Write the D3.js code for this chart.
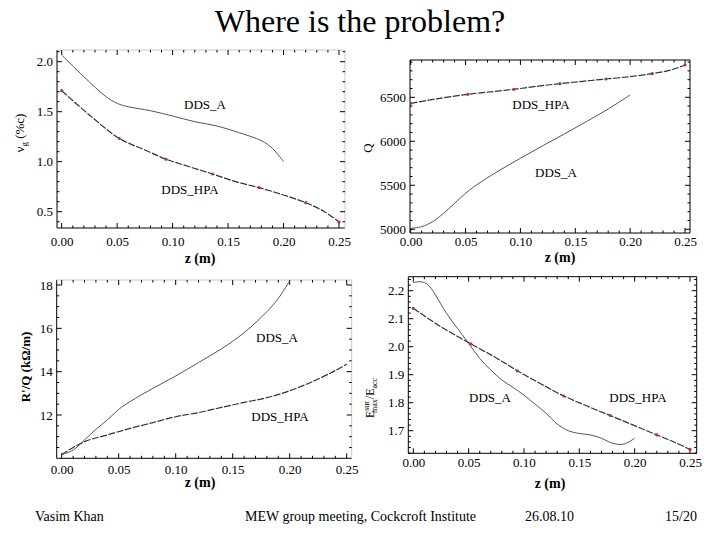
<!DOCTYPE html>
<html><head><meta charset="utf-8">
<script src="https://cdn.jsdelivr.net/npm/d3@7"></script>
<style>body{margin:0;background:#fff}svg{display:block}svg text{font-family:"Liberation Serif","DejaVu Serif",serif !important;fill:#000}</style>
</head><body>
<svg id="c" width="720" height="540"></svg>
<script>
// ---- data ----
const titleText = "Where is the problem?";
const footer = ["Vasim Khan", "MEW group meeting, Cockcroft Institute", "26.08.10", "15/20"];
const zCells = [0, 0.052, 0.094, 0.136, 0.178, 0.22, 0.25];
const xTicks = [0, 0.05, 0.10, 0.15, 0.20, 0.25];

// panel 1: group velocity
const zA1 = [0, 0.02, 0.04, 0.05, 0.06, 0.08, 0.10, 0.12, 0.14, 0.16, 0.18, 0.19, 0.20];
const vgA = [2.067, 1.85, 1.65, 1.583, 1.55, 1.51, 1.457, 1.40, 1.357, 1.29, 1.21, 1.133, 1.0];
const zH = [0, 0.025, 0.052, 0.075, 0.094, 0.115, 0.136, 0.157, 0.178, 0.2, 0.22, 0.237, 0.25];
const vgHPA = [1.71, 1.467, 1.232, 1.117, 1.025, 0.95, 0.877, 0.80, 0.74, 0.667, 0.59, 0.50, 0.397];
const yTicks1 = [0.5, 1.0, 1.5, 2.0];

// panel 2: Q
const zA2 = [0, 0.01, 0.02, 0.03, 0.04, 0.05, 0.06, 0.08, 0.10, 0.12, 0.14, 0.16, 0.18, 0.20];
const qA = [5011, 5030, 5087, 5182, 5295, 5409, 5504, 5663, 5807, 5947, 6083, 6223, 6367, 6527];
const qHPA = [6432, 6485, 6534, 6565, 6591, 6625, 6655, 6682, 6708, 6735, 6769, 6810, 6867];
const yTicks2 = [5000, 5500, 6000, 6500];

// panel 3: R'/Q
const zA3 = [0, 0.01, 0.02, 0.03, 0.04, 0.05, 0.06, 0.08, 0.10, 0.12, 0.14, 0.16, 0.18, 0.19, 0.20];
const rqA = [10.18, 10.38, 10.85, 11.34, 11.77, 12.26, 12.62, 13.23, 13.8, 14.42, 15.05, 15.8, 16.77, 17.38, 18.2];
const zH3 = [0, 0.02, 0.04, 0.06, 0.08, 0.10, 0.12, 0.14, 0.16, 0.18, 0.20, 0.22, 0.24, 0.25];
const rqHPA = [10.18, 10.77, 11.08, 11.38, 11.65, 11.92, 12.11, 12.35, 12.58, 12.8, 13.12, 13.54, 14.05, 14.35];
const yTicks3 = [12, 14, 16, 18];

// panel 4: Emax/Eacc
const zA4 = [0, 0.005, 0.01, 0.015, 0.02, 0.03, 0.04, 0.05, 0.06, 0.07, 0.08, 0.09, 0.10, 0.11, 0.12, 0.13, 0.14, 0.15, 0.16, 0.17, 0.18, 0.19, 0.20];
const eA = [2.229, 2.232, 2.229, 2.214, 2.185, 2.119, 2.065, 2.012, 1.958, 1.917, 1.881, 1.855, 1.827, 1.795, 1.762, 1.724, 1.70, 1.69, 1.685, 1.673, 1.655, 1.652, 1.673];
const eHPA = [2.137, 2.071, 2.01, 1.96, 1.914, 1.868, 1.824, 1.788, 1.754, 1.718, 1.685, 1.657, 1.633];
const yTicks4 = [1.7, 1.8, 1.9, 2.0, 2.1, 2.2];

// ---- layout ----
const FONT = "'Liberation Serif','DejaVu Serif',serif";
const svg = d3.select("#c");
svg.append("text").attr("x", 360).attr("y", 32).attr("text-anchor", "middle")
  .attr("font-family", FONT).attr("font-size", 32).text(titleText);

const footX = [35, 245, 525, 665];
footer.forEach((t, i) => svg.append("text").attr("x", footX[i]).attr("y", 521)
  .attr("font-family", FONT).attr("font-size", 14).text(t));

const panels = [
  {frame:[57,345,50,228], xr:[61.7,339], yd:[0.5,2.0], yr:[211.7,61.7], yTicks:yTicks1, yMinor:0.1, fmt:d3.format(".1f"),
   faint:true, A:[zA1,vgA], H:[zH,vgHPA], dots:true, xlabY:246,
   lblA:[205,109], lblH:[190,194], xTitle:[200,263], yTitle:"vg", yTitlePos:[24,133]},
  {frame:[410,690,60,233], xr:[410.7,685], yd:[5000,6500], yr:[229.3,97.3], yTicks:yTicks2, yMinor:100, fmt:d3.format("d"),
   faint:false, A:[zA2,qA], H:[zH,qHPA], dots:true, xlabY:246,
   lblA:[556,177], lblH:[541,109], xTitle:[560,262], yTitle:"Q", yTitlePos:[372,148]},
  {frame:[56.7,351.7,280,458.3], xr:[61.7,346.7], yd:[12,18], yr:[415,285], yTicks:yTicks3, yMinor:0.5, fmt:d3.format("d"),
   faint:true, A:[zA3,rqA], H:[zH3,rqHPA], dots:false, xlabY:474.5,
   lblA:[277,342], lblH:[280,421], xTitle:[200,487], yTitle:"RQ", yTitlePos:[30,367]},
  {frame:[408.3,696.7,276.7,453.3], xr:[413.3,690], yd:[1.7,2.2], yr:[430.7,290.7], yTicks:yTicks4, yMinor:0.02, fmt:d3.format(".1f"),
   faint:false, A:[zA4,eA], H:[zH,eHPA], dots:true, xlabY:467.5,
   lblA:[490,402], lblH:[638,402], xTitle:[550,488], yTitle:"E", yTitlePos:[374,398]}
];

panels.forEach((p, pi) => {
  const [L, R, T, B] = p.frame;
  const x = d3.scaleLinear().domain([0, 0.25]).range(p.xr);
  const y = d3.scaleLinear().domain(p.yd).range(p.yr);
  const g = svg.append("g");
  const clipId = "clip" + pi;
  g.append("clipPath").attr("id", clipId).append("rect")
    .attr("x", L).attr("y", T).attr("width", R - L).attr("height", B - T);

  // frame
  const faintCol = p.faint ? "#c8c8c8" : "#000";
  g.append("line").attr("x1", L).attr("x2", L).attr("y1", T).attr("y2", B).attr("stroke", "#000");
  g.append("line").attr("x1", L).attr("x2", R).attr("y1", B).attr("y2", B).attr("stroke", "#000");
  g.append("line").attr("x1", R).attr("x2", R).attr("y1", T).attr("y2", B).attr("stroke", faintCol);
  g.append("line").attr("x1", L).attr("x2", R).attr("y1", T).attr("y2", T).attr("stroke", faintCol);

  // x ticks (major + minor), bottom and top
  const xMinorVals = d3.range(0, 0.2601, 0.01).filter(v => x(v) >= L && x(v) <= R);
  xMinorVals.forEach(v => {
    const major = Math.abs(Math.round(v / 0.05) * 0.05 - v) < 1e-6;
    const len = major ? 5 : 2.5;
    g.append("line").attr("x1", x(v)).attr("x2", x(v)).attr("y1", B).attr("y2", B - len).attr("stroke", "#000");
    g.append("line").attr("x1", x(v)).attr("x2", x(v)).attr("y1", T).attr("y2", T + len).attr("stroke", "#000");
  });
  const xAxis = d3.axisBottom(x).tickValues(xTicks).tickFormat(d3.format(".2f")).tickSize(0).tickPadding(0);
  const xa = g.append("g").attr("transform", `translate(0,${B})`).call(xAxis)
    .attr("font-family", FONT).attr("font-size", 13);
  xa.select(".domain").remove();
  xa.selectAll("text").attr("y", p.xlabY - B).attr("dy", null).attr("font-family", FONT).attr("font-size", 13);

  // y ticks
  const step = p.yMinor;
  const y0 = Math.ceil(y.invert(B) / step) * step, y1 = y.invert(T);
  const majorStep = p.yTicks[1] - p.yTicks[0];
  for (let v = y0; v <= y1 + 1e-9; v += step) {
    const vv = Math.round(v / step) * step;
    const r = vv / majorStep;
    const major = Math.abs(r - Math.round(r)) < 1e-6;
    const len = major ? 5 : 2.5;
    g.append("line").attr("x1", L).attr("x2", L + len).attr("y1", y(vv)).attr("y2", y(vv)).attr("stroke", "#000");
    g.append("line").attr("x1", R).attr("x2", R - len).attr("y1", y(vv)).attr("y2", y(vv)).attr("stroke", "#000");
  }
  const yAxis = d3.axisLeft(y).tickValues(p.yTicks).tickFormat(p.fmt).tickSize(0).tickPadding(0);
  const ya = g.append("g").attr("transform", `translate(${L},0)`).call(yAxis)
    .attr("font-family", FONT).attr("font-size", 13);
  ya.select(".domain").remove();
  ya.selectAll("text").attr("x", -4).attr("font-family", FONT).attr("font-size", 13);

  // curves
  const line = d3.line().x(d => x(d[0])).y(d => y(d[1])).curve(d3.curveCatmullRom.alpha(0.5));
  const aPts = p.A[0].map((z, i) => [z, p.A[1][i]]);
  const hPts = p.H[0].map((z, i) => [z, p.H[1][i]]);
  const cg = g.append("g").attr("clip-path", `url(#${clipId})`);
  cg.append("path").attr("d", line(aPts)).attr("fill", "none").attr("stroke", "#555").attr("stroke-width", 1);
  cg.append("path").attr("d", line(hPts)).attr("fill", "none").attr("stroke", "#333")
    .attr("stroke-width", 1.2).attr("stroke-dasharray", "7,1.5");
  if (p.dots) {
    cg.selectAll("circle").data(hPts.filter(d => zCells.some(c => Math.abs(c - d[0]) < 1e-6)))
      .join("circle").attr("cx", d => x(d[0])).attr("cy", d => y(d[1])).attr("r", 1.6)
      .attr("fill", "#b03838");
  }

  // labels
  g.append("text").attr("x", p.lblA[0]).attr("y", p.lblA[1]).attr("text-anchor", "middle")
    .attr("font-family", FONT).attr("font-size", 13).text("DDS_A");
  g.append("text").attr("x", p.lblH[0]).attr("y", p.lblH[1]).attr("text-anchor", "middle")
    .attr("font-family", FONT).attr("font-size", 13).text("DDS_HPA");

  // x title
  g.append("text").attr("x", p.xTitle[0]).attr("y", p.xTitle[1]).attr("text-anchor", "middle")
    .attr("font-family", FONT).attr("font-size", 14).attr("font-weight", "bold").text("z (m)");

  // y title
  const yt = g.append("text").attr("transform", `translate(${p.yTitlePos[0]},${p.yTitlePos[1]}) rotate(-90)`)
    .attr("text-anchor", "middle").attr("font-family", FONT).attr("font-size", 13);
  if (p.yTitle === "vg") {
    yt.append("tspan").text("ν");
    yt.append("tspan").attr("dy", 3).attr("font-size", 9).text("g");
    yt.append("tspan").attr("dy", -3).text(" (%c)");
  } else if (p.yTitle === "Q") {
    yt.text("Q");
  } else if (p.yTitle === "RQ") {
    yt.attr("font-weight", "bold").text("R'/Q (kΩ/m)");
  } else {
    yt.attr("font-size", 12);
    yt.append("tspan").text("E");
    yt.append("tspan").attr("dy", -5).attr("font-size", 8).text("sur");
    yt.append("tspan").attr("dx", -12).attr("dy", 8).attr("font-size", 8).text("max");
    yt.append("tspan").attr("dy", -3).text("/E");
    yt.append("tspan").attr("dy", 3).attr("font-size", 8).text("acc");
  }
});
</script>
</body></html>
